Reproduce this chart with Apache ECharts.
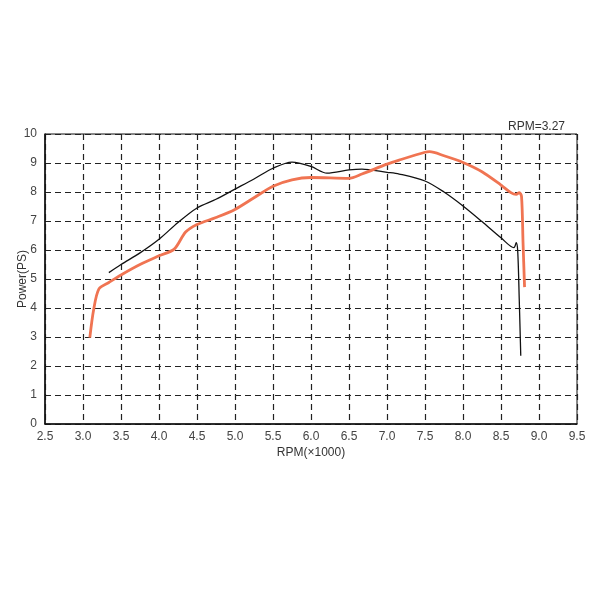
<!DOCTYPE html>
<html><head><meta charset="utf-8">
<script src="https://cdn.jsdelivr.net/npm/echarts@6/dist/echarts.min.js"></script>
<style>html,body{margin:0;padding:0;background:#fff}#c{width:600px;height:600px}</style>
</head><body><div id="c"></div>
<script>
var xTicks = [2.5,3.0,3.5,4.0,4.5,5.0,5.5,6.0,6.5,7.0,7.5,8.0,8.5,9.0,9.5];
var yTicks = [0,1,2,3,4,5,6,7,8,9,10];
var titleText = 'RPM=3.27';
var blackRpm = [3.34,3.5,3.75,4.0,4.25,4.5,4.75,5.0,5.25,5.5,5.75,6.0,6.21,6.5,6.67,7.0,7.16,7.5,7.75,8.0,8.25,8.5,8.67,8.70,8.72,8.74,8.76];
var blackPow = [5.22,5.5,5.9,6.37,6.95,7.45,7.75,8.1,8.45,8.82,9.03,8.88,8.65,8.76,8.79,8.68,8.62,8.38,8.0,7.52,6.98,6.42,6.08,6.25,5.96,4.3,2.35];
var redRpm = [3.09,3.14,3.21,3.34,3.5,3.75,4.0,4.2,4.35,4.5,4.75,5.0,5.25,5.5,5.75,6.0,6.5,6.67,7.0,7.16,7.5,7.56,7.75,8.0,8.25,8.5,8.63,8.70,8.74,8.77,8.79,8.81];
var redPow = [2.98,3.94,4.66,4.88,5.14,5.5,5.8,6.03,6.62,6.88,7.12,7.4,7.8,8.2,8.42,8.5,8.47,8.62,8.96,9.1,9.37,9.39,9.25,9.02,8.7,8.24,7.98,7.92,7.98,7.85,6.25,4.72];
function pairs(a,b){return a.map(function(v,i){return [v,b[i]];});}
var chart = echarts.init(document.getElementById('c'));
var font = 'Liberation Sans, Arial, sans-serif';
chart.setOption({
  backgroundColor:'#fff',
  animation:false,
  title:{text:titleText,right:30,top:116,textStyle:{fontSize:12,fontWeight:'normal',color:'#333',fontFamily:font}},
  grid:{left:45,right:23,top:134,bottom:176,containLabel:false,outerBoundsMode:'none',show:true,borderColor:'#111',borderWidth:1},
  xAxis:{type:'value',min:2.5,max:9.5,interval:0.5,
    name:'RPM(×1000)',nameLocation:'middle',nameGap:23,nameMoveOverlap:false,
    nameTextStyle:{fontSize:12,color:'#333',fontFamily:font},
    axisLine:{show:true,lineStyle:{color:'#111',width:1.5}},axisTick:{show:false},
    axisLabel:{margin:7,fontSize:12,color:'#444',fontFamily:font,formatter:function(v){return v.toFixed(1);}},
    splitLine:{show:true,lineStyle:{color:'#222',type:[6,4],width:1.2}}},
  yAxis:{type:'value',min:0,max:10,interval:1,
    name:'Power(PS)',nameLocation:'middle',nameGap:16,nameRotate:90,nameMoveOverlap:false,
    nameTextStyle:{fontSize:12,color:'#333',fontFamily:font},
    axisLine:{show:true,lineStyle:{color:'#111',width:1.5}},axisTick:{show:false},
    axisLabel:{margin:8,fontSize:12,color:'#444',fontFamily:font},
    splitLine:{show:true,lineStyle:{color:'#222',type:[6,4],width:1.2}}},
  series:[
    {type:'line',data:pairs(blackRpm,blackPow),smooth:0.3,showSymbol:false,lineStyle:{color:'#111',width:1.3},z:3},
    {type:'line',data:pairs(redRpm,redPow),smooth:0.3,showSymbol:false,lineStyle:{color:'#f07452',width:2.8},z:4}
  ]
});
</script></body></html>
